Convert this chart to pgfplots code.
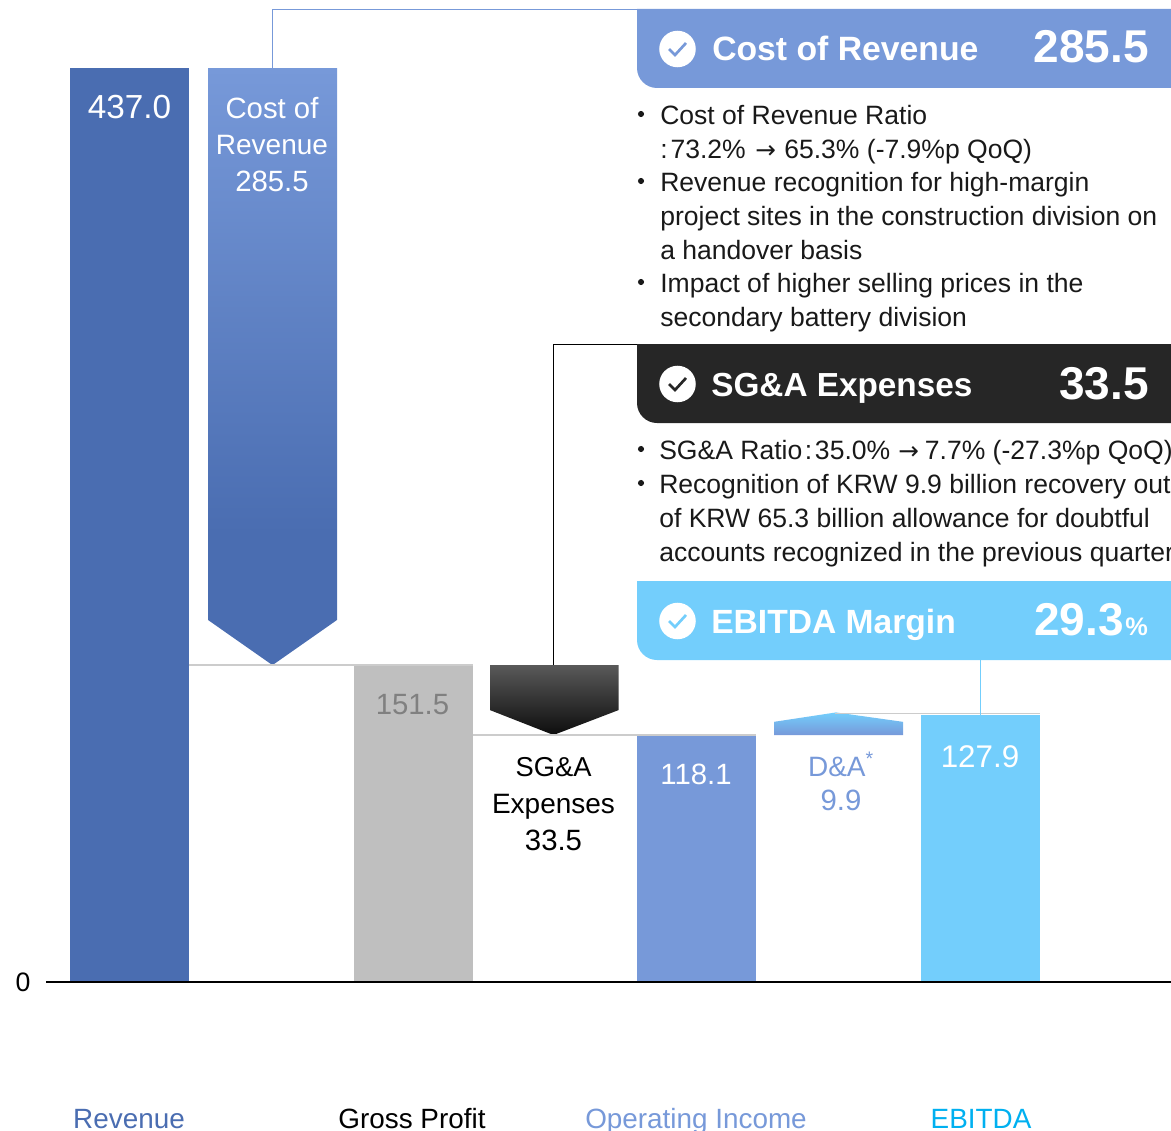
\documentclass[border=0pt]{standalone}
\usepackage{fontspec}
\setmainfont{Liberation Sans}
\newfontfamily\djv{DejaVu Sans}
\usepackage{pgfplots}
\pgfplotsset{compat=1.18}
\definecolor{cRev}{HTML}{4A6DB1}
\definecolor{cOp}{HTML}{7799D9}
\definecolor{cEb}{HTML}{73CEFC}
\definecolor{cGp}{HTML}{BFBFBF}
\definecolor{cDark}{HTML}{262626}
\definecolor{cLine}{HTML}{CCCCCC}
\definecolor{cEbT}{HTML}{00B0F0}
\pgfdeclareverticalshading{corshade}{100bp}{color(0bp)=(cRev); color(36bp)=(cRev); color(75bp)=(cOp); color(100bp)=(cOp)}
\pgfdeclareverticalshading{sgashade}{100bp}{color(0bp)=(black!95); color(25bp)=(black!95); color(75bp)=(black!65); color(100bp)=(black!65)}
\pgfdeclareverticalshading{dashade}{100bp}{color(0bp)=(cOp); color(25bp)=(cOp); color(75bp)=(cEb); color(100bp)=(cEb)}
\newcommand\fs[1]{\fontsize{#1}{#1}\selectfont}
\newcommand\arr{{\djv\fs{18.5}→}}
\begin{document}
\begin{tikzpicture}
\path[use as bounding box] (0,0) rectangle (878.25pt,-848.25pt);
\begin{axis}[at={(0,0)},anchor=north west,scale only axis,width=878.25pt,height=848.25pt,
  xmin=0,xmax=1171,ymin=-71.24,ymax=469.52,clip=false,
  axis line style={draw=none},major tick length=0pt,
  xtick={129,412,696,981},
  xticklabels={\textcolor{cRev}{Revenue},\textcolor{black}{Gross Profit},\textcolor{cOp}{Operating Income},\textcolor{cEbT}{EBITDA}},
  xticklabel style={anchor=base,yshift=2.25pt,font=\fs{20.9}},
  ytick={0},yticklabels={0},
  yticklabel style={anchor=center,xshift=17.25pt,font=\fs{20}},
]
% bars
\addplot[draw=none,fill=cRev] coordinates {(70,0)(189,0)(189,437)(70,437)} --cycle;
\addplot[draw=none,fill=cGp] coordinates {(354,0)(473,0)(473,151.5)(354,151.5)} --cycle;
\addplot[draw=none,fill=cOp] coordinates {(637,0)(756,0)(756,118.1)(637,118.1)} --cycle;
\addplot[draw=none,fill=cEb] coordinates {(921,0)(1040,0)(1040,127.9)(921,127.9)} --cycle;
% floating arrows
\addplot[draw=none,shading=corshade] coordinates {(208,437)(337,437)(337,173.1)(272.5,151.5)(208,173.1)} --cycle;
\addplot[draw=none,shading=sgashade] coordinates {(490,151.5)(618.5,151.5)(618.5,130)(553.5,118.1)(490,130)} --cycle;
\addplot[draw=none,shading=dashade] coordinates {(774,118.1)(903,118.1)(903,124.4)(836,128.9)(774,124.4)} --cycle;
% connectors
\addplot[cLine,line width=1pt] coordinates {(189,151.5)(473,151.5)};
\addplot[cLine,line width=1pt] coordinates {(473,118.1)(756,118.1)};
\addplot[cLine,line width=1pt] coordinates {(835,128.4)(1040,128.4)};
\addplot[black,line width=1.1pt] coordinates {(46,0)(1171,0)};
\end{axis}
\begin{scope}[x=0.75pt,y=-0.75pt]
\draw[cOp,line width=0.8pt] (272.5,68) -- (272.5,9.5) -- (640,9.5);
\draw[black,line width=0.6pt] (553,665) -- (553,344) -- (640,344);
\draw[cEb,line width=0.8pt] (980.5,658) -- (980.5,715);
% panels
\fill[cOp] (1180,9) -- (1180,88) [rounded corners=15pt] -- (637,88) [sharp corners] -- (637,9) -- cycle;
\fill[cDark] (1180,344) -- (1180,423) [rounded corners=15pt] -- (637,423) [sharp corners] -- (637,344) -- cycle;
\fill[cEb] (1180,581) -- (1180,660) [rounded corners=15pt] -- (637,660) [sharp corners] -- (637,581) -- cycle;
% icons
\fill[white] (677.5,49) circle [radius=13.7pt];
\draw[cOp,line width=2pt] (669,49) -- (675,55) -- (686,43);
\fill[white] (677.5,384) circle [radius=13.7pt];
\draw[cDark,line width=2pt] (669,384) -- (675,390) -- (686,378);
\fill[white] (677.5,621) circle [radius=13.7pt];
\draw[cEb,line width=2pt] (669,621) -- (675,627) -- (686,615);
% panel text
\tikzset{hd/.style={anchor=base west,inner sep=0pt,text=white,font=\bfseries\fs{25.3}},
  hv/.style={anchor=base east,inner sep=0pt,text=white,font=\bfseries\fs{34.5}},
  bd/.style={anchor=base west,inner sep=0pt,text=black!90,font=\fs{19.9}},
  bu/.style={anchor=center,inner sep=0pt,fill=black!90,circle,minimum size=4.6pt},
  lb/.style={anchor=base,inner sep=0pt,font=\fs{22}}}
\node[hd] at (712,61) {Cost of Revenue};
\node[hv] at (1149,63) {285.5};
\node[hd,font=\bfseries\fs{25}] at (711,396) {SG\&A Expenses};
\node[hv] at (1149,399) {33.5};
\node[hd,font=\bfseries\fs{25.2}] at (711,633) {EBITDA Margin};
\node[hv] at (1124,635) {29.3};
\node[anchor=base west,inner sep=0pt,text=white,font=\bfseries\fs{19}] at (1125,635) {\%};
% body text
\node[bu] at (641,114) {}; \node[bd] at (660,124) {Cost of Revenue Ratio};
\node[bd] at (660,158) {:\kern2.2pt 73.2\%\kern7.2pt\arr\kern6.2pt 65.3\% (-7.9\%p QoQ)};
\node[bu] at (641,181) {}; \node[bd] at (660,191) {Revenue recognition for high-margin};
\node[bd] at (660,225) {project sites in the construction division on};
\node[bd] at (660,259) {a handover basis};
\node[bu] at (641,282) {}; \node[bd] at (660,292) {Impact of higher selling prices in the};
\node[bd] at (660,326) {secondary battery division};
\node[bu] at (641,449) {}; \node[bd] at (659,459) {SG\&A Ratio\kern2pt:\kern2pt 35.0\%\kern6pt\arr\kern4.5pt 7.7\% (-27.3\%p QoQ)};
\node[bu] at (641,483) {}; \node[bd] at (659,493) {Recognition of KRW 9.9 billion recovery out};
\node[bd] at (659,527) {of KRW 65.3 billion allowance for doubtful};
\node[bd] at (659,561) {accounts recognized in the previous quarter};
% bar labels
\node[lb,text=white,font=\fs{25}] at (129.5,118) {437.0};
\node[lb,text=white] at (272,118) {Cost of};
\node[lb,text=white,font=\fs{21}] at (272,154) {Revenue};
\node[lb,text=white] at (272,191) {285.5};
\node[lb,text=black!50] at (412.5,714) {151.5};
\node[lb,text=black,font=\fs{20.5}] at (553.5,776) {SG\&A};
\node[lb,text=black,font=\fs{21}] at (553.5,813) {Expenses};
\node[lb,text=black] at (553.5,850) {33.5};
\node[lb,text=white] at (696,784) {118.1};
\node[lb,text=cOp,font=\fs{21}] at (841,776) {D\&A\textsuperscript{*}};
\node[lb,text=cOp] at (841,810) {9.9};
\node[lb,text=white,font=\fs{23.5}] at (980,767) {127.9};
\end{scope}
\end{tikzpicture}
\end{document}
